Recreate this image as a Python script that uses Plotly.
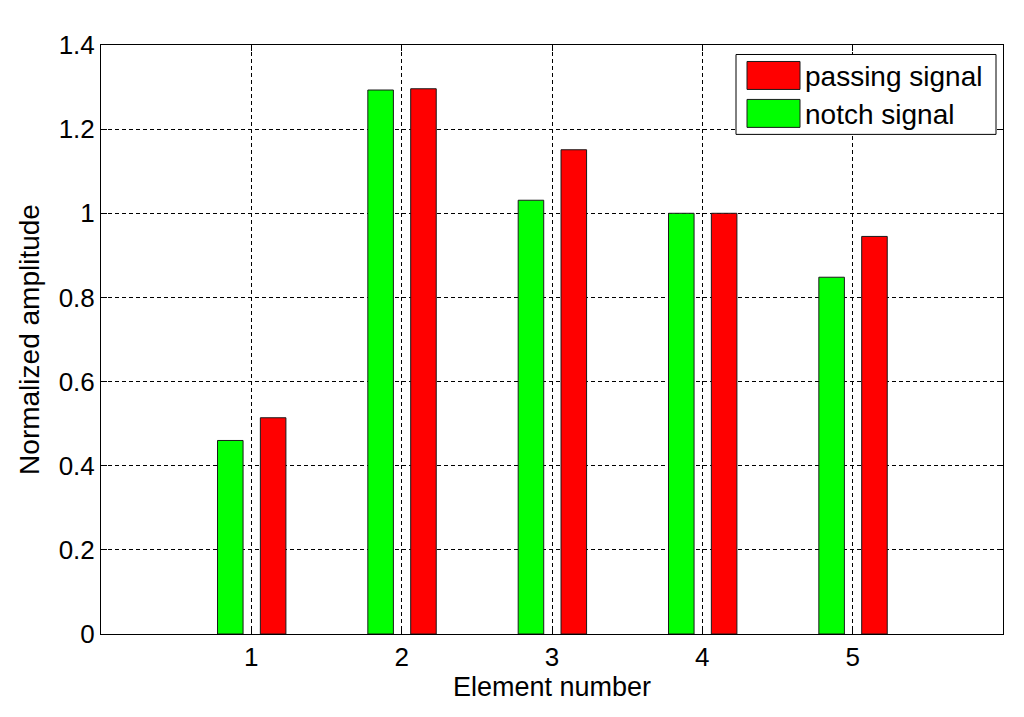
import plotly.graph_objects as go

elements = [1, 2, 3, 4, 5]
notch_signal = [0.460, 1.293, 1.031, 1.000, 0.848]
passing_signal = [0.514, 1.296, 1.151, 1.000, 0.945]
series_names = ["passing signal", "notch signal"]
y_ticks = [0, 0.2, 0.4, 0.6, 0.8, 1.0, 1.2, 1.4]
y_tick_text = ["0", "0.2", "0.4", "0.6", "0.8", "1", "1.2", "1.4"]

# page has an 8px body margin -> figure is drawn at (8, 8)
OFF = 8
W, H = 1024 - 2 * OFF, 717 - 2 * OFF
# plot area in page pixels
PL, PR, PT, PB = 101, 1003, 44.5, 634.3
L, R, T, B = PL - OFF, W - (PR - OFF), PT - OFF, H - (PB - OFF)
FONT = "Liberation Sans, Arial, sans-serif"

fig = go.Figure()
fig.add_trace(go.Bar(x=elements, y=notch_signal, name=series_names[1],
                     marker=dict(color="#00FF00", line=dict(color="#1a1a1a", width=1)),
                     width=0.17, offset=-0.225, showlegend=False))
fig.add_trace(go.Bar(x=elements, y=passing_signal, name=series_names[0],
                     marker=dict(color="#FF0000", line=dict(color="#1a1a1a", width=1)),
                     width=0.17, offset=0.06, showlegend=False))

# MATLAB-like legend (page pixel -> paper helpers)
def px(x):
    return (x - PL) / (PR - PL)
def py(y):
    return 1 - (y - PT) / (PB - PT)

shapes = [
    dict(type="rect", xref="paper", yref="paper", x0=px(736), x1=px(996), y0=py(134), y1=py(54),
         fillcolor="white", line=dict(color="#000000", width=1), layer="above"),
    dict(type="rect", xref="paper", yref="paper", x0=px(747), x1=px(800), y0=py(89), y1=py(61),
         fillcolor="#FF0000", line=dict(color="#1a1a1a", width=1), layer="above"),
    dict(type="rect", xref="paper", yref="paper", x0=px(747), x1=px(800), y0=py(127), y1=py(99),
         fillcolor="#00FF00", line=dict(color="#1a1a1a", width=1), layer="above"),
]
annotations = [
    dict(xref="paper", yref="paper", x=px(803), y=py(76), text=series_names[0], showarrow=False,
         xanchor="left", yanchor="middle", font=dict(family=FONT, size=28, color="#000000")),
    dict(xref="paper", yref="paper", x=px(803), y=py(114), text=series_names[1], showarrow=False,
         xanchor="left", yanchor="middle", font=dict(family=FONT, size=28, color="#000000")),
]

axis_common = dict(showgrid=True, gridcolor="#000000", gridwidth=1, griddash="4px,3px",
                   showline=True, linecolor="#000000", linewidth=1, mirror="ticks",
                   ticks="inside", ticklen=6, tickcolor="#000000", zeroline=False,
                   tickfont=dict(size=26))

fig.update_layout(
    width=W, height=H,
    margin=dict(l=L, r=R, t=T, b=B, pad=0),
    paper_bgcolor="white", plot_bgcolor="white",
    font=dict(family=FONT, size=24, color="#000000"),
    shapes=shapes, annotations=annotations,
    showlegend=False,
)
fig.update_xaxes(range=[0, 6], tickvals=elements, ticktext=[str(e) for e in elements],
                 title=dict(text="Element number", font=dict(size=27), standoff=5),
                 **axis_common)
fig.update_yaxes(range=[0, 1.4], tickvals=y_ticks, ticktext=y_tick_text,
                 title=dict(text="Normalized amplitude", font=dict(size=28), standoff=10),
                 **axis_common)

fig.write_html("out.html")
